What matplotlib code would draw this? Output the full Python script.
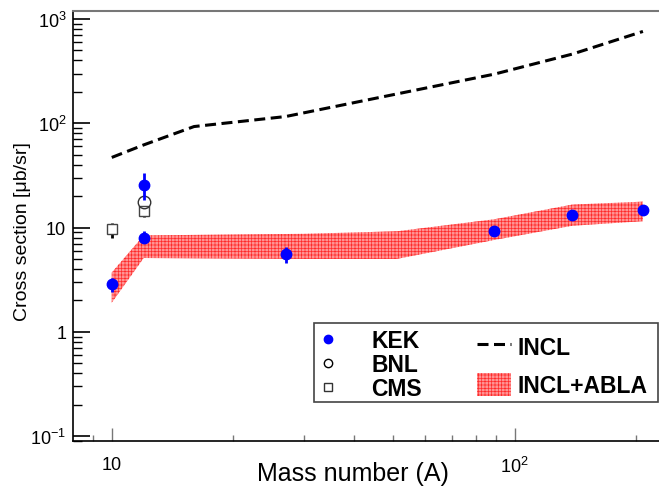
import matplotlib
matplotlib.use('Agg')
import matplotlib.pyplot as plt
from matplotlib.lines import Line2D
from matplotlib.patches import Patch, Rectangle

plt.rcParams['font.family'] = ['Liberation Sans', 'DejaVu Sans']
plt.rcParams['mathtext.default'] = 'regular'
plt.rcParams['hatch.linewidth'] = 0.5

# KEK data (filled circles)
kek_A = [10, 12, 12, 27, 89, 139, 208]
kek_y = [2.85, 25.5, 8.0, 5.6, 9.2, 13.3, 14.6]
kek_lo = [0.45, 7.0, 0.9, 1.0, 0.5, 0.6, 0.6]
kek_hi = [0.45, 7.5, 1.2, 0.9, 0.5, 0.6, 0.6]

# BNL (open circle)
bnl_A = [12]
bnl_y = [17.7]

# CMS (open squares)
cms_A = [10, 12]
cms_y = [9.6, 14.3]
cms_lo = [1.6, 1.7]
cms_hi = [1.5, 1.6]

# INCL (dashed line)
incl_A = [10, 12, 16, 27, 89, 139, 208]
incl_y = [47, 62, 93, 116, 296, 461, 760]

# INCL+ABLA band
band_A = [10, 12, 30, 51, 89, 139, 208]
band_lo = [1.9, 5.1, 5.0, 5.0, 7.6, 10.4, 11.5]
band_hi = [3.7, 8.4, 8.7, 9.2, 12.0, 16.6, 17.7]

band_face = '#ff9494'
band_hatch = '#ff2a2a'
dash = (0, (3.6, 1.8))

fig = plt.figure(figsize=(6.59, 4.89), dpi=100)
ax = fig.add_axes([0.111, 0.096, 0.889, 0.8795])

ax.fill_between(band_A, band_lo, band_hi, facecolor=band_face, edgecolor=band_hatch,
                hatch='+++++', linewidth=0, zorder=1)
ax.plot(incl_A, incl_y, color='black', linestyle=dash, linewidth=2.2, zorder=2)

ax.errorbar(cms_A, cms_y, yerr=[cms_lo, cms_hi], fmt='s', color='black', mfc='white',
            mec='#444444', ms=7, mew=1.0, elinewidth=2, capsize=0, zorder=3)
ax.plot(bnl_A, bnl_y, 'o', mfc='none', mec='#333333', ms=9, mew=1.0, zorder=4)
ax.errorbar(kek_A, kek_y, yerr=[kek_lo, kek_hi], fmt='o', color='#0000ff', ms=7.5,
            elinewidth=2, capsize=0, zorder=5)

ax.set_xscale('log')
ax.set_yscale('log')
ax.set_xlim(8.02, 228)
ax.set_ylim(0.0895, 1194)

ax.set_yticks([0.1, 1, 10, 100, 1000])
ax.set_yticklabels(['$10^{-1}$', '1', '10', '$10^{2}$', '$10^{3}$'])
ax.set_xticks([10, 100])
ax.set_xticklabels(['10', '$10^{2}$'])
ax.tick_params(which='both', direction='in', top=False, right=False, labelsize=13)
ax.tick_params(axis='y', which='major', length=12, width=1.2, pad=5)
ax.tick_params(axis='y', which='minor', length=6.5, width=1.0)
ax.tick_params(axis='x', which='major', length=9.5, width=1.0, color='#777777', pad=11)
ax.tick_params(axis='x', which='minor', length=4.5, width=1.0, color='#777777')
ax.xaxis.set_minor_formatter(plt.NullFormatter())

ax.spines['right'].set_visible(False)
ax.spines['top'].set_color('#777777')
ax.spines['top'].set_linewidth(1.5)
ax.spines['left'].set_linewidth(1.2)
ax.spines['bottom'].set_linewidth(1.2)

ax.set_xlabel('Mass number (A)', fontsize=18)
ax.xaxis.set_label_coords(0.478, -0.074)
ax.xaxis.label.set_va('center')
ax.set_ylabel('Cross section [\u03bcb/sr]', fontsize=14)
ax.yaxis.set_label_coords(-0.087, 0.49)
ax.yaxis.label.set_va('center')

# legend box
ax.add_patch(Rectangle((0.4119, 0.0918), 0.587, 0.1823, transform=ax.transAxes,
                       facecolor='white', edgecolor='#444444', linewidth=1.2, zorder=6))
h1 = [Line2D([], [], marker='o', linestyle='none', color='#0000ff', ms=6),
      Line2D([], [], marker='o', linestyle='none', mfc='none', mec='black', ms=6, mew=1),
      Line2D([], [], marker='s', linestyle='none', mfc='none', mec='#333333', ms=6, mew=1)]
leg1 = ax.legend(h1, ['KEK', 'BNL', 'CMS'], loc='upper left', bbox_to_anchor=(0.385, 0.297),
                 frameon=False, prop={'weight': 'bold', 'size': 16.5}, handletextpad=1.27,
                 labelspacing=0.03, borderpad=0.2, handlelength=1.2)
leg1.set_zorder(7)
ax.add_artist(leg1)
h2 = [Line2D([], [], color='black', linestyle=dash, linewidth=2.2),
      Patch(facecolor=band_face, edgecolor=band_hatch, hatch='+++++', linewidth=0)]
leg2 = ax.legend(h2, ['INCL', 'INCL+ABLA'], loc='upper left', bbox_to_anchor=(0.6625, 0.285),
                 frameon=False, prop={'weight': 'bold', 'size': 16.5}, handletextpad=0.26,
                 labelspacing=0.63, borderpad=0.2, handlelength=1.48, handleheight=1.14)
leg2.set_zorder(7)

fig.savefig('out.png', dpi=100)
